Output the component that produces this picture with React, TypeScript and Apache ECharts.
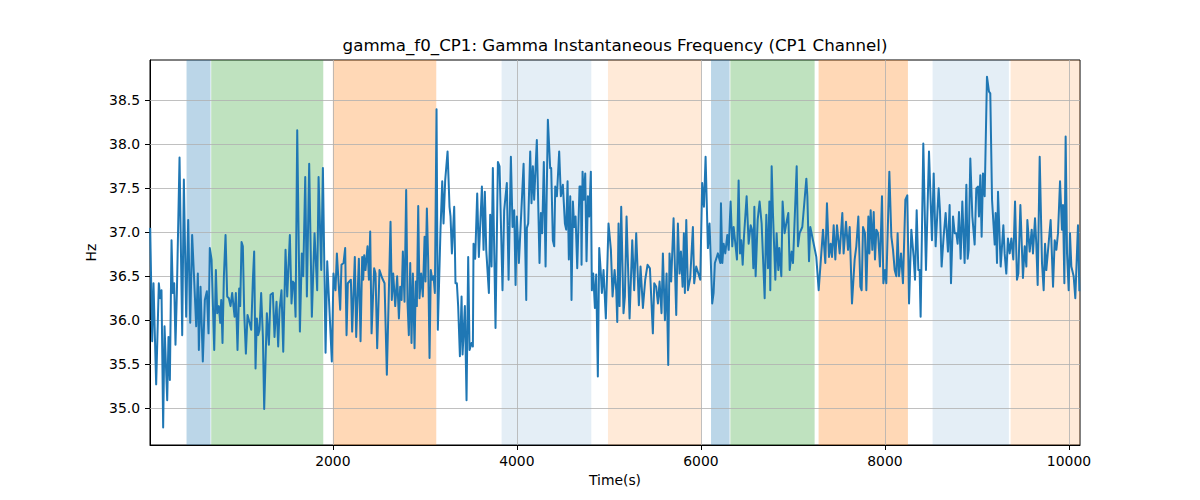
import React, { useEffect, useRef } from "react";
import * as echarts from "echarts";

const TITLE = "gamma_f0_CP1: Gamma Instantaneous Frequency (CP1 Channel)";
const X_NAME = "Time(s)";
const Y_NAME = "Hz";

const xTicks = [2000, 4000, 6000, 8000, 10000];
const yTicks = [35.0, 35.5, 36.0, 36.5, 37.0, 37.5, 38.0, 38.5];

const X_MIN = 13;
const X_MAX = 10120;
const Y_MIN = 34.58;
const Y_MAX = 38.96;

// shaded intervals: [start, end, colour]
const bandStarts = [410, 678, 2000, 3834, 4990, 6110, 6320, 7279, 8518, 9366];
const bandEnds = [671, 1896, 3124, 4809, 6004, 6312, 7236, 8250, 9347, 10120];
const bandColors = [
  "rgba(31,119,180,0.3)",
  "rgba(44,160,44,0.3)",
  "rgba(255,127,14,0.3)",
  "rgba(31,119,180,0.12)",
  "rgba(255,127,14,0.16)",
  "rgba(31,119,180,0.3)",
  "rgba(44,160,44,0.3)",
  "rgba(255,127,14,0.3)",
  "rgba(31,119,180,0.12)",
  "rgba(255,127,14,0.16)",
];

const times = [
  15, 37, 51, 80, 109, 124, 138, 156, 171, 200, 214, 229, 247, 261, 276, 290, 305, 334, 363, 381,
  406, 428, 450, 471, 490, 515, 533, 544, 562, 587, 609, 631, 649, 663, 682, 711, 729, 743, 761, 776,
  787, 801, 816, 834, 852, 870, 888, 906, 932, 946, 964, 982, 993, 1008, 1022, 1037, 1055, 1073, 1095, 1113,
  1131, 1145, 1160, 1174, 1189, 1203, 1221, 1240, 1254, 1283, 1305, 1323, 1348, 1366, 1388, 1406, 1421, 1442, 1461, 1486,
  1504, 1533, 1551, 1566, 1580, 1595, 1613, 1642, 1663, 1678, 1700, 1718, 1743, 1772, 1801, 1830, 1845, 1874, 1892, 1921,
  1939, 1989, 2007, 2029, 2044, 2080, 2094, 2116, 2134, 2149, 2163, 2196, 2210, 2239, 2254, 2283, 2301, 2319, 2330, 2341, 2355,
  2377, 2392, 2406, 2421, 2449, 2464, 2482, 2507, 2536, 2562, 2587, 2605, 2627, 2641, 2656, 2678, 2699, 2718, 2732, 2747,
  2761, 2779, 2797, 2812, 2826, 2841, 2855, 2870, 2888, 2902, 2913, 2928, 2942, 2960, 2978, 2997, 3007, 3022, 3036, 3051,
  3065, 3080, 3094, 3109, 3127, 3141, 3170, 3189, 3203, 3221, 3247, 3268, 3279, 3294, 3319, 3333, 3348, 3362, 3381, 3399,
  3410, 3435, 3453, 3471, 3486, 3507, 3522, 3529, 3547, 3569, 3587, 3620, 3638, 3652, 3667, 3696, 3710, 3725, 3739, 3768,
  3794, 3812, 3844, 3862, 3891, 3910, 3935, 3953, 3971, 3986, 4000, 4022, 4073, 4102, 4109, 4123, 4145, 4159, 4174, 4188,
  4217, 4246, 4261, 4275, 4293, 4312, 4337, 4362, 4373, 4391, 4406, 4417, 4435, 4460, 4478, 4500, 4522, 4536, 4551, 4565,
  4580, 4594, 4609, 4623, 4638, 4656, 4681, 4696, 4703, 4714, 4728, 4743, 4757, 4772, 4786, 4804, 4815, 4830, 4848, 4862,
  4880, 4895, 4913, 4924, 4942, 4967, 4996, 5022, 5040, 5062, 5080, 5091, 5105, 5116, 5134, 5159, 5174, 5192, 5225, 5254,
  5275, 5297, 5326, 5344, 5370, 5395, 5420, 5446, 5478, 5493, 5514, 5533, 5551, 5572, 5587, 5609, 5627, 5645, 5659, 5677,
  5703, 5732, 5750, 5768, 5783, 5801, 5815, 5826, 5841, 5859, 5884, 5913, 5927, 5949, 5993, 6014, 6033, 6051, 6076, 6094,
  6123, 6138, 6152, 6185, 6211, 6218, 6233, 6247, 6265, 6287, 6302, 6323, 6341, 6356, 6392, 6410, 6425, 6439, 6454, 6468,
  6497, 6519, 6541, 6555, 6570, 6581, 6595, 6617, 6638, 6660, 6693, 6711, 6729, 6744, 6754, 6769, 6783, 6809, 6823, 6841,
  6852, 6874, 6888, 6910, 6928, 6950, 6965, 6986, 7001, 7041, 7055, 7073, 7102, 7146, 7157, 7175, 7189, 7218, 7254, 7280,
  7327, 7352, 7370, 7392, 7410, 7425, 7443, 7461, 7479, 7508, 7537, 7551, 7577, 7599, 7617, 7642, 7671, 7689, 7711, 7733,
  7747, 7762, 7783, 7798, 7820, 7831, 7845, 7863, 7878, 7892, 7907, 7925, 7946, 7968, 7983, 8001, 8015, 8048, 8070, 8088,
  8106, 8124, 8138, 8153, 8175, 8196, 8222, 8243, 8262, 8287, 8312, 8327, 8345, 8363, 8377, 8388, 8417, 8446, 8479, 8511,
  8530, 8551, 8584, 8598, 8616, 8638, 8660, 8685, 8703, 8718, 8740, 8758, 8776, 8790, 8805, 8823, 8841, 8866, 8885, 8899,
  8910, 8928, 8950, 8975, 8993, 9011, 9022, 9037, 9051, 9066, 9084, 9109, 9131, 9145, 9164, 9193, 9203, 9218, 9229, 9258,
  9287, 9301, 9319, 9337, 9356, 9374, 9395, 9414, 9435, 9450, 9472, 9500, 9519, 9537, 9548, 9573, 9595, 9609, 9631, 9645,
  9660, 9682, 9707, 9725, 9740, 9754, 9801, 9827, 9845, 9863, 9881, 9903, 9924, 9935, 9950, 9964, 9979, 9997, 10011, 10026,
  10051, 10069, 10098, 10113,
];

const hz = [
  37.05, 35.76, 36.42, 35.27, 36.42, 36.25, 36.34, 34.78, 35.93, 35.09, 35.81, 35.32, 36.91, 36.31, 36.42, 35.72, 36.31, 37.85, 35.83, 37.6,
  36.04, 37.14, 35.97, 36.97, 36.53, 35.93, 36.53, 35.66, 36.38, 35.53, 36.23, 36.33, 35.85, 36.82, 36.69, 35.66, 36.57, 36.08, 36.16, 35.97,
  36.23, 35.74, 36.5, 36.97, 36.27, 36.25, 36.16, 36.31, 36.04, 36.31, 35.66, 36.36, 36.16, 36.89, 36.84, 36.08, 35.62, 36.06, 35.97, 35.89,
  36.46, 36.78, 35.45, 36.02, 35.83, 35.89, 36.31, 35.81, 34.99, 36.08, 35.72, 36.29, 36.31, 35.81, 36.21, 35.7, 36.12, 36.34, 35.64, 36.8,
  36.27, 36.97, 36.19, 36.44, 36.42, 36.04, 38.16, 35.87, 36.76, 36.5, 37.63, 36.27, 37.78, 36.04, 36.99, 36.34, 37.63, 36.57, 37.73, 35.63,
  36.67, 35.53, 36.53, 36.34, 36.76, 36.12, 36.63, 36.65, 36.82, 35.83, 36.42, 36.46, 35.87, 36.72, 35.81, 36.7, 35.76, 36.72, 36.46, 36.74, 36.57,
  36.84, 36.46, 37.01, 35.85, 36.59, 36.53, 35.68, 36.57, 36.48, 36.42, 35.38, 36.16, 37.12, 36.23, 36.53, 36.16, 36.5, 36.02, 36.38, 36.23,
  36.78, 36.21, 37.48, 36.19, 35.83, 36.65, 35.74, 36.53, 35.68, 36.44, 36.16, 37.3, 36.25, 36.53, 36.27, 36.95, 36.44, 37.27, 36.69, 35.57,
  36.57, 36.46, 36.5, 36.31, 38.4, 35.89, 37.03, 37.58, 37.1, 37.59, 37.92, 37.29, 37.18, 36.76, 37.29, 36.42, 36.42, 36.16, 35.59, 36.27,
  35.61, 36.16, 35.09, 36.72, 35.66, 35.74, 35.7, 36.87, 36.7, 37.44, 36.72, 37.52, 36.8, 37.46, 36.8, 36.31, 37.2, 36.61, 37.73, 35.91,
  37.8, 37.75, 36.34, 37.25, 37.56, 36.46, 37.86, 37.06, 37.25, 36.4, 37.18, 36.65, 37.78, 36.23, 37.05, 37.1, 37.92, 37.33, 37.75, 37.37,
  38.05, 36.65, 37.22, 36.99, 37.8, 36.61, 38.28, 37.73, 37.73, 36.91, 36.84, 37.52, 37.41, 37.92, 37.41, 37.54, 37.1, 37.03, 37.58, 36.69,
  37.41, 36.23, 37.35, 37.06, 37.18, 36.59, 37.52, 37.52, 36.63, 37.69, 37.37, 37.67, 36.67, 37.41, 37.18, 37.69, 36.34, 36.53, 36.14, 36.52,
  35.36, 36.82, 36.53, 36.31, 36.57, 36.02, 37.1, 36.8, 36.27, 36.57, 36.34, 35.98, 37.1, 36.16, 37.29, 36.08, 36.27, 37.18, 36.02, 36.91,
  36.34, 36.99, 36.17, 36.61, 36.14, 36.46, 36.63, 36.59, 35.85, 36.42, 36.38, 36.19, 36.44, 36.08, 36.76, 36.0, 36.53, 35.49, 36.76, 36.44,
  37.16, 36.06, 37.1, 36.53, 36.78, 36.38, 36.99, 36.31, 37.14, 36.34, 36.48, 37.06, 36.42, 36.61, 36.46, 37.56, 37.29, 37.86, 36.82, 37.1,
  36.19, 36.31, 36.65, 36.76, 36.65, 37.33, 36.65, 36.87, 36.76, 36.97, 36.8, 37.35, 36.84, 37.06, 36.69, 37.59, 36.76, 36.91, 36.63, 36.95,
  37.41, 36.87, 37.08, 37.03, 36.59, 37.29, 36.5, 37.14, 37.35, 37.1, 36.25, 37.2, 36.59, 37.35, 36.34, 37.75, 37.22, 36.46, 36.99, 36.57,
  36.82, 36.5, 37.35, 36.99, 37.1, 37.22, 36.57, 36.78, 36.65, 37.75, 36.84, 36.99, 37.06, 37.61, 37.41, 36.67, 37.06, 36.91, 36.72, 36.34,
  37.03, 36.65, 37.33, 36.72, 36.87, 36.72, 37.08, 36.69, 37.08, 36.76, 37.22, 36.76, 37.12, 36.8, 37.06, 36.19, 36.69, 36.84, 37.18, 36.38,
  36.34, 37.06, 36.99, 36.34, 37.18, 36.76, 37.25, 36.8, 37.23, 36.69, 37.03, 36.99, 36.61, 37.41, 36.42, 36.57, 36.42, 37.69, 36.95, 36.8,
  36.57, 36.5, 36.99, 36.5, 36.76, 36.42, 37.37, 37.42, 36.19, 37.03, 36.72, 36.46, 37.25, 36.57, 36.57, 36.04, 38.01, 36.57, 37.92, 36.91,
  37.67, 36.84, 37.5, 37.25, 36.61, 36.95, 37.22, 36.78, 37.31, 36.42, 37.18, 36.99, 36.99, 36.87, 37.23, 36.7, 37.35, 36.65, 37.54, 36.7,
  36.8, 37.84, 37.18, 36.86, 37.5, 37.52, 37.18, 37.65, 36.95, 37.67, 37.41, 38.77, 38.6, 38.58, 37.37, 36.86, 37.22, 36.65, 37.46, 36.61,
  37.08, 36.76, 36.53, 36.93, 36.76, 36.93, 36.69, 37.35, 36.46, 36.53, 37.31, 36.48, 36.84, 36.61, 37.14, 36.78, 37.03, 36.76, 37.16, 36.87,
  36.4, 37.86, 36.65, 36.34, 36.87, 36.57, 37.14, 36.38, 36.91, 36.8, 36.99, 37.58, 37.03, 37.31, 36.42, 38.09, 36.76, 36.34, 36.99, 36.61,
  36.5, 36.25, 37.08, 36.33,
];

const FONT = "DejaVu Sans, Liberation Sans, sans-serif";

export default function App() {
  const ref = useRef<HTMLDivElement>(null);

  useEffect(() => {
    if (!ref.current) return;
    const chart = echarts.init(ref.current, undefined, { renderer: "svg" });

    const lineData = times.map((t, i) => [t, hz[i]]);
    const areaData = bandStarts.map((s, i) => [
      { xAxis: s, itemStyle: { color: bandColors[i] } },
      { xAxis: bandEnds[i] },
    ]);
    const gridLines = [
      ...xTicks.map((v) => ({ xAxis: v })),
      ...yTicks.map((v) => ({ yAxis: v })),
    ];

    chart.setOption({
      animation: false,
      backgroundColor: "#ffffff",
      textStyle: { fontFamily: FONT },
      title: {
        text: TITLE,
        left: 610,
        top: 32,
        textAlign: "center",
        textStyle: { fontFamily: FONT, fontSize: 16.67, fontWeight: "normal", color: "#000" },
      },
      grid: {
        left: 150,
        right: 120,
        top: 60,
        bottom: 55,
        show: true,
        borderColor: "#000",
        borderWidth: 1,
        backgroundColor: "transparent",
      },
      xAxis: {
        type: "value",
        min: X_MIN,
        max: X_MAX,
        name: X_NAME,
        nameLocation: "middle",
        nameGap: 28,
        nameTextStyle: { fontFamily: FONT, fontSize: 13.9, color: "#000" },
        axisLine: { show: true, lineStyle: { color: "#000", width: 1 } },
        axisTick: { show: true, inside: false, length: 5, lineStyle: { color: "#000" }, customValues: xTicks },
        axisLabel: {
          customValues: xTicks,
          fontFamily: FONT,
          fontSize: 13.9,
          color: "#000",
          margin: 9,
          formatter: (v: number) => String(Math.round(v)),
        },
        splitLine: { show: false },
      },
      yAxis: {
        type: "value",
        min: Y_MIN,
        max: Y_MAX,
        name: Y_NAME,
        nameLocation: "middle",
        nameGap: 42,
        nameTextStyle: { fontFamily: FONT, fontSize: 13.9, color: "#000" },
        axisLine: { show: true, lineStyle: { color: "#000", width: 1 } },
        axisTick: { show: true, inside: false, length: 5, lineStyle: { color: "#000" }, customValues: yTicks },
        axisLabel: {
          customValues: yTicks,
          fontFamily: FONT,
          fontSize: 13.9,
          color: "#000",
          margin: 10,
          formatter: (v: number) => v.toFixed(1),
        },
        splitLine: { show: false },
      },
      series: [
        {
          type: "line",
          data: [],
          silent: true,
          z: 1,
          markArea: { silent: true, data: areaData },
        },
        {
          type: "line",
          data: [],
          silent: true,
          z: 2,
          markLine: {
            silent: true,
            symbol: "none",
            label: { show: false },
            lineStyle: { color: "#b0b0b0", width: 0.8, type: "solid" },
            data: gridLines,
          },
        },
        {
          type: "line",
          data: lineData,
          z: 10,
          showSymbol: false,
          symbol: "none",
          lineStyle: { color: "#1f77b4", width: 2, join: "round" },
          itemStyle: { color: "#1f77b4" },
        },
      ],
    });

    return () => chart.dispose();
  }, []);

  return (
    <div
      ref={ref}
      style={{ position: "absolute", left: 0, top: 0, width: 1200, height: 500, background: "#fff" }}
    />
  );
}
